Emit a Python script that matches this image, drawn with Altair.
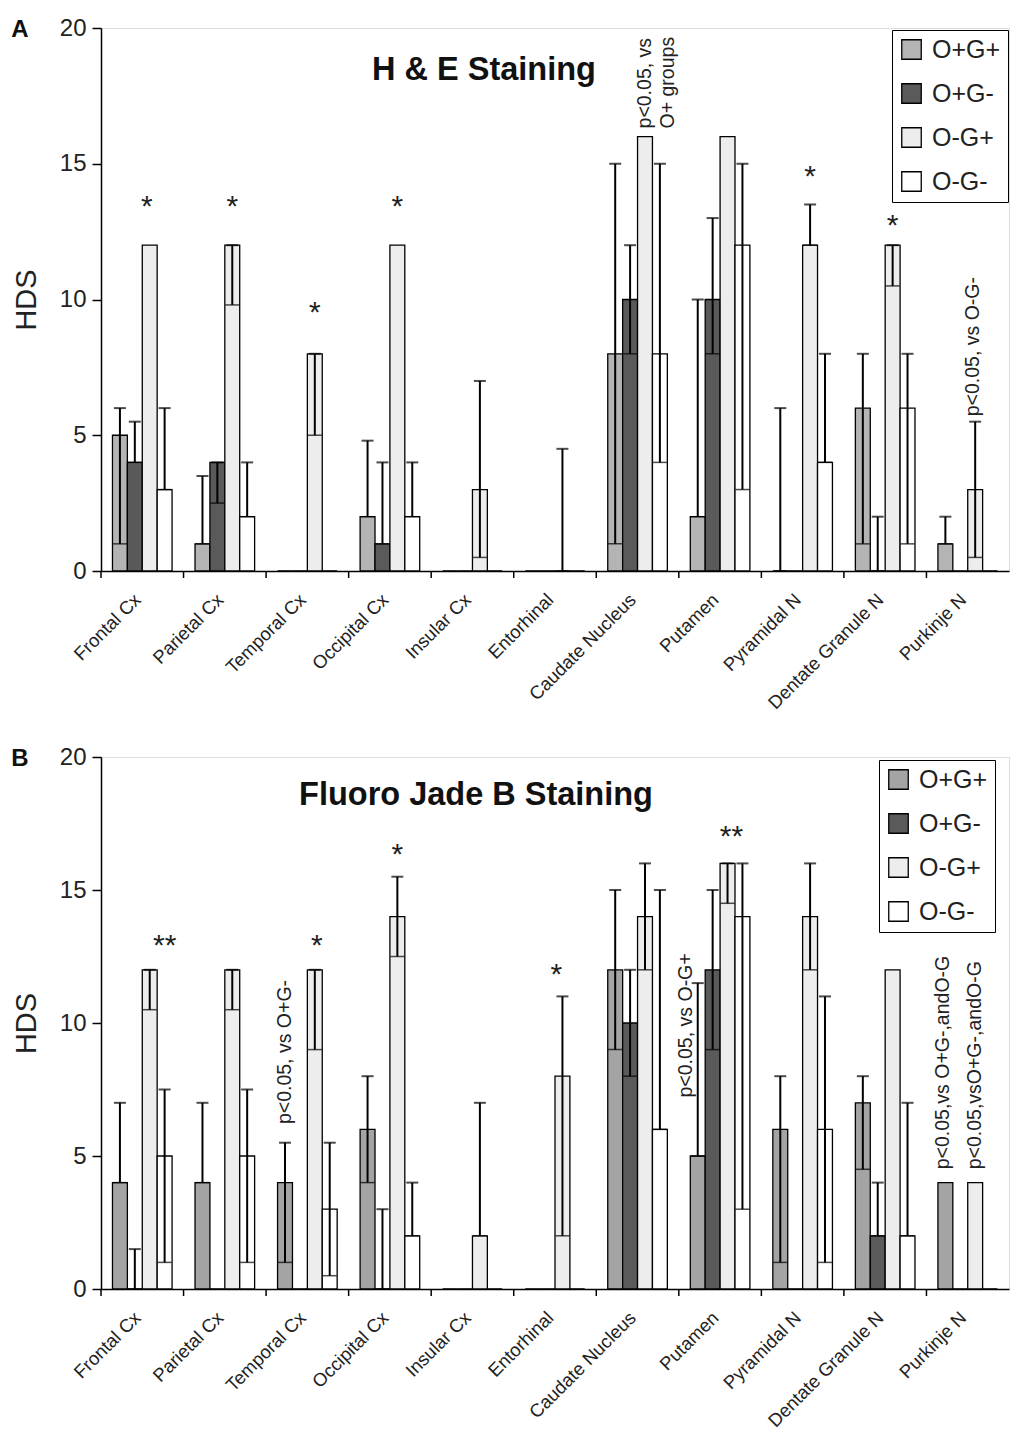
import altair as alt
import pandas as pd

cats = ["Frontal Cx", "Parietal Cx", "Temporal Cx", "Occipital Cx", "Insular Cx",
        "Entorhinal", "Caudate Nucleus", "Putamen", "Pyramidal N",
        "Dentate Granule N", "Purkinje N"]
groups = ["O+G+", "O+G-", "O-G+", "O-G-"]
colors_a = ["#b4b4b4", "#5a5a5a", "#ededed", "#ffffff"]
colors_b = ["#a4a4a4", "#5a5a5a", "#ededed", "#ffffff"]

# ---------------- Panel A: H & E staining ----------------
a_means = {
    "O+G+": [5, 1, 0, 2, 0, 0, 8, 2, 0, 6, 1],
    "O+G-": [4, 4, 0, 1, 0, 0, 10, 10, 0, 0, 0],
    "O-G+": [12, 12, 8, 12, 3, 0, 16, 16, 12, 12, 3],
    "O-G-": [3, 2, 0, 2, 0, 0, 8, 12, 4, 6, 0],
}
a_lo = {
    "O+G+": [1, 1, None, 2, None, None, 1, 2, 0, 1, 1],
    "O+G-": [4, 2.5, None, 1, None, None, 8, 8, None, 0, None],
    "O-G+": [None, 9.8, 5, None, 0.5, 0, None, None, 12, 10.5, 0.5],
    "O-G-": [3, 2, None, 2, None, None, 4, 3, 4, 1, None],
}
a_hi = {
    "O+G+": [6, 3.5, None, 4.8, None, None, 15, 10, 6, 8, 2],
    "O+G-": [5.5, 4, None, 4, None, None, 12, 13, None, 2, None],
    "O-G+": [None, 12, 8, None, 7, 4.5, None, None, 13.5, 12, 5.5],
    "O-G-": [6, 4, None, 4, None, None, 15, 15, 8, 8, None],
}
a_stars_cat = ["Frontal Cx", "Parietal Cx", "Temporal Cx", "Occipital Cx", "Pyramidal N", "Dentate Granule N"]
a_stars_y = [13.4, 13.4, 9.5, 13.4, 14.5, 12.7]
a_stars_txt = ["*", "*", "*", "*", "*", "*"]
a_stars_dx = [-3, 0, 0, 0, 0, 0]
a_note_cat = ["Caudate Nucleus", "Purkinje N"]
a_note_grp = ["O-G+", "O-G+"]
a_note_y = [16.3, 5.7]
a_note_txt = ["p<0.05, vs\nO+ groups", "p<0.05, vs O-G-"]
a_note_dy = [0, -2]

# ---------------- Panel B: Fluoro Jade B staining ----------------
b_means = {
    "O+G+": [4, 4, 4, 6, 0, 0, 12, 5, 6, 7, 4],
    "O+G-": [0, 0, 0, 0, 0, 0, 10, 12, 0, 2, 0],
    "O-G+": [12, 12, 12, 14, 2, 8, 14, 16, 14, 12, 4],
    "O-G-": [5, 5, 3, 2, 0, 0, 6, 14, 6, 2, 0],
}
b_lo = {
    "O+G+": [4, 4, 1, 4, None, None, 9, 5, 1, 4.5, None],
    "O+G-": [0, None, None, 0, None, None, 8, 9, None, 2, None],
    "O-G+": [10.5, 10.5, 9, 12.5, 2, 2, 12, 14.5, 12, None, None],
    "O-G-": [1, 1, 0.5, 2, None, None, 6, 3, 1, 2, None],
}
b_hi = {
    "O+G+": [7, 7, 5.5, 8, None, None, 15, 11.5, 8, 8, None],
    "O+G-": [1.5, None, None, 3, None, None, 12, 15, None, 4, None],
    "O-G+": [12, 12, 12, 15.5, 7, 11, 16, 16, 16, None, None],
    "O-G-": [7.5, 7.5, 5.5, 4, None, None, 15, 16, 11, 7, None],
}
b_stars_cat = ["Frontal Cx", "Temporal Cx", "Occipital Cx", "Entorhinal", "Putamen"]
b_stars_y = [12.9, 12.9, 16.3, 11.8, 17.0]
b_stars_txt = ["**", "*", "*", "*", "**"]
b_stars_dx = [15, 2, 0, -6, 4]
b_note_cat = ["Temporal Cx", "Putamen", "Purkinje N", "Purkinje N"]
b_note_grp = ["O+G+", "O+G+", "O+G+", "O-G+"]
b_note_y = [6.2, 7.2, 4.5, 4.5]
b_note_txt = ["p<0.05, vs O+G-", "p<0.05, vs O-G+", "p<0.05,vs O+G-,andO-G", "p<0.05,vsO+G-,andO-G"]
b_note_dy = [0, -12, -2, 0]

FONT = "Liberation Sans"
W = 908


def panel(means, lo, hi, s_cat, s_y, s_txt, s_dx, n_cat, n_grp, n_y, n_txt, n_dy,
          title, letter, height, pos, colors):
    bars = pd.DataFrame([{"cat": c, "grp": g, "val": means[g][i]}
                         for g in groups for i, c in enumerate(cats)])
    errs = pd.DataFrame([{"cat": c, "grp": g, "lo": lo[g][i], "hi": hi[g][i]}
                         for g in groups for i, c in enumerate(cats)
                         if lo[g][i] is not None and hi[g][i] is not None])

    xs = alt.Scale(domain=cats, paddingInner=0, paddingOuter=0)
    xoff = alt.XOffset("grp:N", sort=groups,
                       scale=alt.Scale(domain=groups, paddingInner=0, paddingOuter=0.77))
    ys = alt.Scale(domain=[0, 20], nice=False, zero=True)

    base_x = alt.X("cat:N", sort=cats, scale=xs, title=None,
                   axis=alt.Axis(labelAngle=-45, labelFontSize=18.5, labelFont=FONT,
                                 labelColor="#222", ticks=False, domainColor="black",
                                 domainWidth=1.5, labelPadding=19, labelOffset=-11,
                                 labelLimit=300))

    bar = alt.Chart(bars).mark_bar(stroke="black", strokeWidth=1.3).encode(
        x=base_x,
        xOffset=xoff,
        y=alt.Y("val:Q", scale=ys, title="HDS",
                axis=alt.Axis(values=[0, 5, 10, 15, 20], grid=False, labelFontSize=24,
                              labelFont=FONT, labelColor="#222", tickSize=9, tickWidth=1.5,
                              tickColor="black", domainColor="black", domainWidth=1.5,
                              labelPadding=6, titleFont=FONT, titleFontSize=29,
                              titleFontWeight="normal", titleColor="#222", titlePadding=18)),
        fill=alt.Fill("grp:N", scale=alt.Scale(domain=groups, range=colors),
                      legend=alt.Legend(title=None, orient="none",
                                        legendX=pos[0], legendY=pos[1],
                                        symbolType="square", symbolSize=380,
                                        symbolStrokeColor="black", symbolStrokeWidth=1.3,
                                        labelFontSize=25, labelFont=FONT, labelColor="#222",
                                        rowPadding=18, padding=7, strokeColor="black",
                                        labelOffset=8, symbolOpacity=1)),
    )

    ticks_x = alt.Chart(pd.DataFrame({"cat": cats})).mark_rule(
        color="black", strokeWidth=1.5).encode(
        x=alt.X("cat:N", sort=cats, scale=xs, bandPosition=0),
        y=alt.value(height), y2=alt.value(height + 7))

    rule = alt.Chart(errs).mark_rule(color="black", strokeWidth=2).encode(
        x=alt.X("cat:N", sort=cats, scale=xs), xOffset=xoff,
        y=alt.Y("lo:Q", scale=ys), y2="hi:Q")
    cap_hi = alt.Chart(errs).mark_tick(color="black", thickness=2, size=12,
                                       orient="horizontal").encode(
        x=alt.X("cat:N", sort=cats, scale=xs), xOffset=xoff, y=alt.Y("hi:Q", scale=ys))
    cap_lo = alt.Chart(errs).mark_tick(color="black", thickness=1.5, size=14,
                                       orient="horizontal").encode(
        x=alt.X("cat:N", sort=cats, scale=xs), xOffset=xoff, y=alt.Y("lo:Q", scale=ys))

    layers = [bar, ticks_x, rule, cap_hi, cap_lo]

    for c, yv, t, dx in zip(s_cat, s_y, s_txt, s_dx):
        d = pd.DataFrame({"cat": [c], "grp": ["O-G+"], "y": [yv], "t": [t]})
        layers.append(alt.Chart(d).mark_text(fontSize=30, font=FONT, color="#222",
                                             baseline="middle", dx=dx).encode(
            x=alt.X("cat:N", sort=cats, scale=xs), xOffset=xoff,
            y=alt.Y("y:Q", scale=ys), text="t:N"))

    for c, g, yv, t, dy in zip(n_cat, n_grp, n_y, n_txt, n_dy):
        d = pd.DataFrame({"cat": [c], "grp": [g], "y": [yv], "t": [t]})
        layers.append(alt.Chart(d).mark_text(fontSize=19.5, font=FONT, color="#222", angle=270,
                                             align="left", baseline="middle", dy=dy,
                                             lineBreak="\n", lineHeight=23).encode(
            x=alt.X("cat:N", sort=cats, scale=xs), xOffset=xoff,
            y=alt.Y("y:Q", scale=ys), text="t:N"))

    ttl = alt.Chart(pd.DataFrame({"t": [title]})).mark_text(
        fontSize=32.5, fontWeight="bold", font=FONT, color="#111").encode(
        x=alt.value(pos[2]), y=alt.value(pos[3]), text="t:N")
    let = alt.Chart(pd.DataFrame({"t": [letter]})).mark_text(
        fontSize=24, fontWeight="bold", font=FONT, color="#111").encode(
        x=alt.value(-81), y=alt.value(2), text="t:N")
    layers += [ttl, let]

    return alt.layer(*layers).properties(width=W, height=height)


pa = panel(a_means, a_lo, a_hi, a_stars_cat, a_stars_y, a_stars_txt, a_stars_dx,
           a_note_cat, a_note_grp, a_note_y, a_note_txt, a_note_dy,
           "H & E Staining", "A", 543, (791, 2, 383, 42), colors_a)
pb = panel(b_means, b_lo, b_hi, b_stars_cat, b_stars_y, b_stars_txt, b_stars_dx,
           b_note_cat, b_note_grp, b_note_y, b_note_txt, b_note_dy,
           "Fluoro Jade B Staining", "B", 532, (778, 3, 375, 38), colors_b)

chart = alt.vconcat(pa, pb, spacing=31).resolve_scale(fill="independent").properties(
    padding={"left": 10, "top": 15, "right": 2, "bottom": 2}
).configure_view(stroke="black", strokeWidth=1.5).configure(background="white")

chart.save("out.html", embed_options={"renderer": "svg", "actions": False})
